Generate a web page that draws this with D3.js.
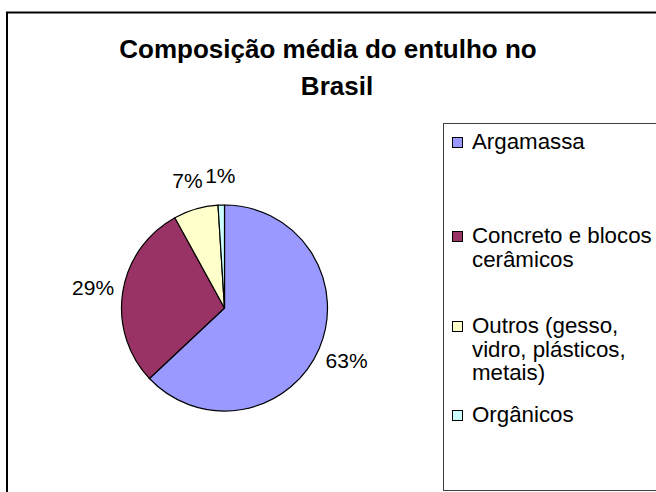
<!DOCTYPE html>
<html>
<head>
<meta charset="utf-8">
<script src="https://cdn.jsdelivr.net/npm/d3@7"></script>
<style>
  body { margin: 0; background: #fff; }
  text { font-family: "Liberation Sans", Arial, sans-serif; fill: #000; }
</style>
</head>
<body>
<main></main>
<script>
const titleLines = ['Composição média do entulho no', 'Brasil'];
const categories = ['Argamassa', 'Concreto e blocos cerâmicos', 'Outros (gesso, vidro, plásticos, metais)', 'Orgânicos'];
const legendLines = [['Argamassa'], ['Concreto e blocos', 'cerâmicos'], ['Outros (gesso,', 'vidro, plásticos,', 'metais)'], ['Orgânicos']];
const values = [63, 29, 7, 1];
const colors = ['#9999FF', '#993366', '#FFFFCC', '#CCFFFF'];

const width = 656;
const height = 492;
const cx = 224.5;
const cy = 308;
const radius = 103;
const legendBaselines = [149, 243, 333, 422];
const lineH = 23.5;

const $svg = d3.select('main').append('svg')
  .attr('width', width)
  .attr('height', height);

// chart frame
$svg.append('rect')
  .attr('x', 7).attr('y', 12.5)
  .attr('width', width + 10).attr('height', height)
  .attr('fill', '#fff')
  .attr('stroke', '#000')
  .attr('stroke-width', 2);

// title
$svg.append('g').selectAll('text')
  .data(titleLines)
  .enter().append('text')
  .attr('x', (d, i) => i === 0 ? 328 : 337)
  .attr('y', (d, i) => 57.5 + i * 37.5)
  .attr('text-anchor', 'middle')
  .attr('font-size', 26)
  .attr('font-weight', 'bold')
  .text(d => d);

// pie
const pie = d3.pie().sort(null).value(d => d);
const arc = d3.arc().innerRadius(0).outerRadius(radius);
const labelArc = d3.arc().innerRadius(radius + 30).outerRadius(radius + 30);
const color = d3.scaleOrdinal().domain(categories).range(colors);
const arcs = pie(values);

const $pie = $svg.append('g').attr('transform', `translate(${cx},${cy})`);

$pie.selectAll('path')
  .data(arcs)
  .enter().append('path')
  .attr('d', arc)
  .attr('fill', (d, i) => color(categories[i]))
  .attr('stroke', '#000')
  .attr('stroke-width', 1.2)
  .attr('stroke-linejoin', 'round');

$pie.selectAll('.label')
  .data(arcs)
  .enter().append('text')
  .attr('class', 'label')
  .attr('transform', d => `translate(${labelArc.centroid(d)})`)
  .attr('text-anchor', 'middle')
  .attr('dy', '0.36em')
  .attr('font-size', 21)
  .text(d => `${d.data}%`);

// legend
$svg.append('rect')
  .attr('x', 443.5).attr('y', 123.5)
  .attr('width', 230).attr('height', 367)
  .attr('fill', '#fff')
  .attr('stroke', '#404040')
  .attr('stroke-width', 1);

const $item = $svg.append('g').selectAll('g')
  .data(categories)
  .enter().append('g')
  .attr('transform', (d, i) => `translate(452, ${legendBaselines[i]})`);

$item.append('rect')
  .attr('x', 0.5).attr('y', -11.5)
  .attr('width', 10).attr('height', 10)
  .attr('fill', d => color(d))
  .attr('stroke', '#000')
  .attr('stroke-width', 1);

$item.each(function(d, i) {
  d3.select(this).selectAll('text')
    .data(legendLines[i])
    .enter().append('text')
    .attr('x', 20)
    .attr('y', (t, j) => j * lineH)
    .attr('font-size', 22.3)
    .text(t => t);
});
</script>
</body>
</html>
